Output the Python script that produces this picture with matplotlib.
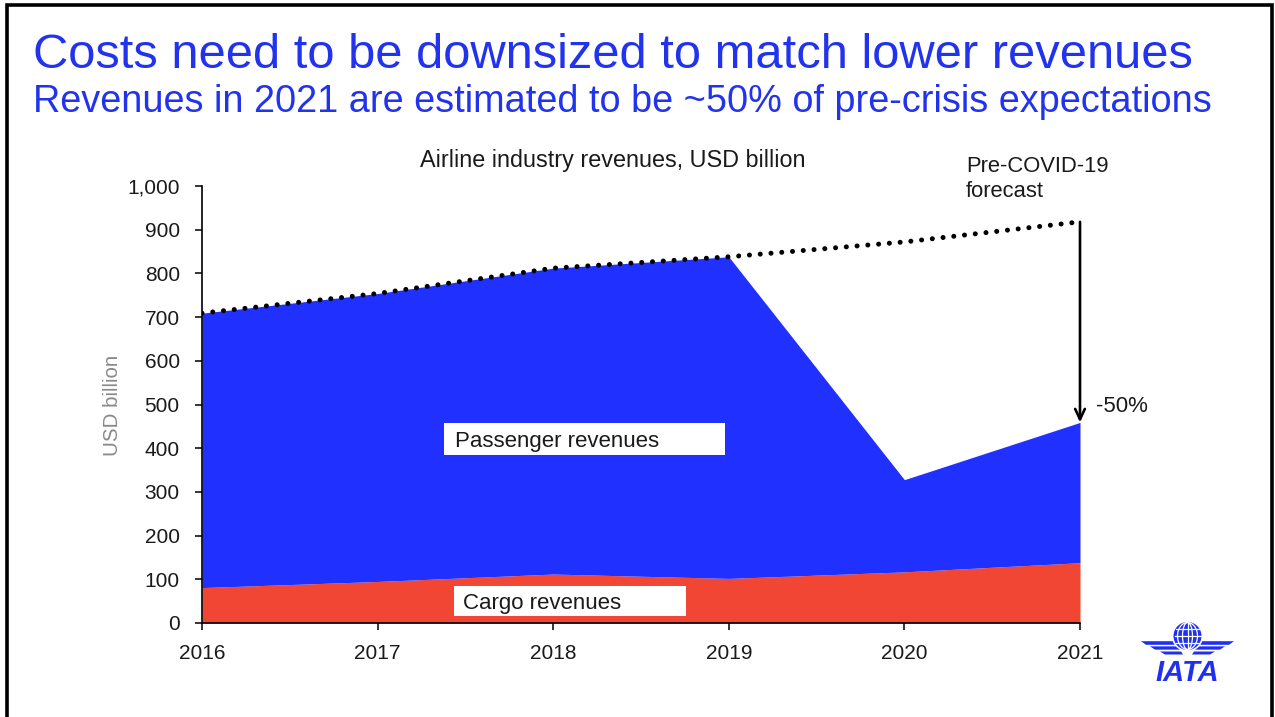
import matplotlib
matplotlib.use("Agg")
import matplotlib.pyplot as plt
from matplotlib.patches import Rectangle, Circle, Ellipse, Polygon
from matplotlib.ticker import FuncFormatter

plt.rcParams['font.family'] = ['Liberation Sans', 'DejaVu Sans']

# Airline industry revenues, USD billion
years = [2016, 2017, 2018, 2019, 2020, 2021]
cargo = [81, 95, 112, 102, 117, 138]
total = [709, 754, 812, 838, 328, 459]
precovid_forecast = [709, 754, 812, 838, 872, 918]
y_ticks = [0, 100, 200, 300, 400, 500, 600, 700, 800, 900, 1000]

BLUE = '#1f30ff'
TITLE_BLUE = '#2233ee'
RED = '#f04633'
TEXT = '#1a1a1a'

W, H = 1275, 717
fig = plt.figure(figsize=(W / 100, H / 100), dpi=100)

def fx(px):
    return px / W

def fy(py):
    return 1 - py / H

# chart area
ax = fig.add_axes([fx(202), fy(623), fx(1080) - fx(202), fy(186) - fy(623)])
ax.fill_between(years, 0, cargo, color=RED, lw=0)
ax.fill_between(years, cargo, total, color=BLUE, lw=0)
ax.plot(years, precovid_forecast, color='black', lw=3.6,
        linestyle=(0, (0.01, 2.15)), dash_capstyle='round')

ax.annotate('', xy=(years[-1], total[-1]), xytext=(years[-1], precovid_forecast[-1]),
            arrowprops=dict(arrowstyle='->,head_length=0.75,head_width=0.35',
                            lw=1.9, color='black', shrinkA=0, shrinkB=0))

ax.set_xlim(years[0], years[-1])
ax.set_ylim(0, 1000)
ax.set_xticks(years)
ax.set_yticks(y_ticks)
ax.yaxis.set_major_formatter(FuncFormatter(lambda v, p: f'{int(v):,}'))
for s in ['top', 'right']:
    ax.spines[s].set_visible(False)
for s in ['left', 'bottom']:
    ax.spines[s].set_color('black')
    ax.spines[s].set_linewidth(1.2)
ax.tick_params(axis='both', direction='out', length=5, width=1.1, colors='black',
               labelsize=15, labelcolor=TEXT)
ax.tick_params(axis='x', pad=10)
ax.tick_params(axis='y', pad=11)
ax.set_facecolor('none')

# overlay in pixel coordinates for the slide frame, labels and logo
frame = fig.add_axes([0, 0, 1, 1], zorder=10)
frame.set_xlim(0, W)
frame.set_ylim(H, 0)
frame.axis('off')
frame.patch.set_alpha(0)
frame.plot([7, 7, 1272, 1272], [H + 5, 5, 5, H + 5], color='black', lw=2.6,
           solid_joinstyle='miter')

frame.text(33, 56, 'Costs need to be downsized to match lower revenues',
           fontsize=35.2, color=TITLE_BLUE, va='center', ha='left')
frame.text(33, 102, 'Revenues in 2021 are estimated to be ~50% of pre-crisis expectations',
           fontsize=27.3, color=TITLE_BLUE, va='center', ha='left')

frame.text(613, 160, 'Airline industry revenues, USD billion', fontsize=16.8,
           color=TEXT, ha='center', va='center')
frame.text(113, 405, 'USD billion', fontsize=14.8, color='#8a8a8a',
           rotation=90, ha='center', va='center')
frame.text(966, 179, 'Pre-COVID-19\nforecast', fontsize=15.8, color=TEXT,
           ha='left', va='center', linespacing=1.2)
frame.text(1096, 407, '-50%', fontsize=16, color=TEXT, ha='left', va='center')

# white label boxes on the areas
frame.add_patch(Rectangle((444, 423), 281, 32, facecolor='white', edgecolor='none'))
frame.text(455, 441, 'Passenger revenues', fontsize=16, color=TEXT, va='center', ha='left')
frame.add_patch(Rectangle((454, 586), 232, 30, facecolor='white', edgecolor='none'))
frame.text(463, 603, 'Cargo revenues', fontsize=16, color=TEXT, va='center', ha='left')

# IATA logo: wings, globe and wordmark
LOGO = '#1f30ee'
cx, cy, r = 1187.5, 636, 14

stripes = [
    (643.0, 1141, 1176, 3.6),
    (648.0, 1150, 1178, 3.3),
    (653.0, 1160, 1181, 3.0),
]
for yy, x0, x1, th in stripes:
    frame.add_patch(Polygon([(x0, yy - th / 2), (x1, yy - th / 2),
                             (x1 + 2, yy + th / 2), (x0 + 5, yy + th / 2)],
                            closed=True, facecolor=LOGO, edgecolor='none', zorder=6))
    mx0 = 2 * cx - x0
    mx1 = 2 * cx - x1
    frame.add_patch(Polygon([(mx0, yy - th / 2), (mx1, yy - th / 2),
                             (mx1 - 2, yy + th / 2), (mx0 - 5, yy + th / 2)],
                            closed=True, facecolor=LOGO, edgecolor='none', zorder=6))
# white ring separating globe from the wings
frame.add_patch(Circle((cx, cy), r + 1.6, facecolor='white', edgecolor='none', zorder=7))
frame.add_patch(Circle((cx, cy), r, facecolor=LOGO, edgecolor='none', zorder=8))
for w in [5, 10]:
    frame.add_patch(Ellipse((cx, cy), 2 * w, 2 * r - 1, facecolor='none',
                            edgecolor='white', lw=0.9, zorder=9))
frame.plot([cx, cx], [cy - r + 1, cy + r - 1], color='white', lw=0.9, zorder=9)
for dy in [-7, 0, 7]:
    half = (r ** 2 - dy ** 2) ** 0.5 - 1
    frame.plot([cx - half, cx + half], [cy + dy, cy + dy], color='white', lw=0.9, zorder=9)

frame.text(1187, 681, 'IATA', fontsize=21, fontweight='bold', fontstyle='italic',
           color=LOGO, ha='center', va='baseline', zorder=7)

fig.savefig('out.png', dpi=100)
